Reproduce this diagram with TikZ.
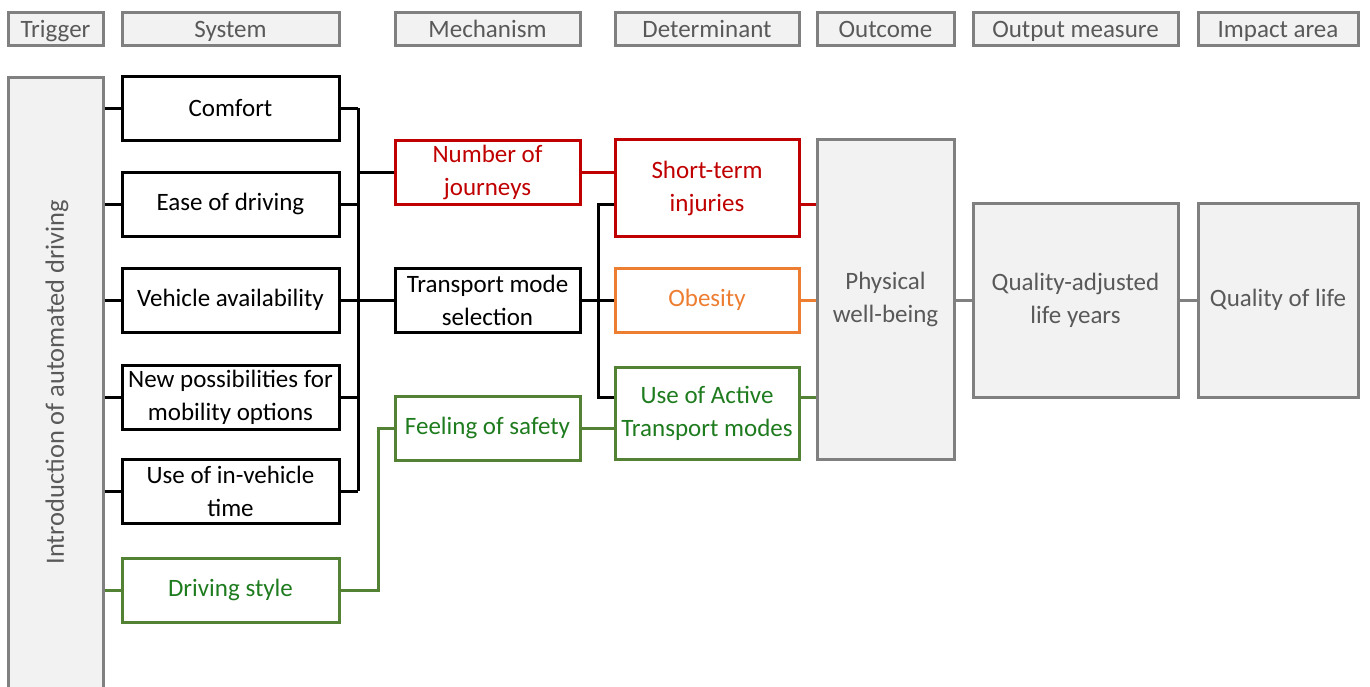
\documentclass[tikz,border=0pt]{standalone}
\usepackage{fontspec}
\setmainfont{Carlito}

\definecolor{boxgray}{HTML}{808080}
\definecolor{fillgray}{HTML}{F2F2F2}
\definecolor{txtgray}{HTML}{595959}
\definecolor{redline}{HTML}{C00000}
\definecolor{orangeline}{HTML}{ED7D31}
\definecolor{greenline}{HTML}{548235}
\definecolor{greentext}{HTML}{1E7B1E}

\begin{document}
\begin{tikzpicture}[x=0.5pt, y=-0.5pt,
    every node/.style={font=\fontsize{12.5}{16.5}\selectfont, inner sep=0pt, align=center},
    frame/.style={draw=black, line width=1.5pt, minimum height=32pt},
    sysbox/.style={frame, minimum width=108.5pt},
    mechbox/.style={frame, minimum width=92.5pt},
    detbox/.style={frame, minimum width=92pt},
    graybox/.style={draw=boxgray, fill=fillgray, text=txtgray, line width=1.5pt},
    headbox/.style={graybox, minimum height=16.5pt, text height=10pt, text depth=1.5pt},
    link/.style={line width=1.5pt}]
    \useasboundingbox (0,0) rectangle (1370,686);

    % column headers
    \foreach \n/\x/\w/\t in {Trig/55.5/47.5/Trigger, Sys/230.5/108.5/System,
        Mech/487.5/92.5/Mechanism, Det/707/92/Determinant, Out/885.5/68.5/Outcome,
        Meas/1075.5/102.5/Output measure, Imp/1278/80/Impact area}{%
        \node[headbox, minimum width=\w pt] (h\n) at (\x, 28.5) {\t};
    }

    % trigger
    \node[graybox, minimum width=47.5pt, minimum height=306.5pt] (trigger) at (55.5, 383.5) {};
    \node[rotate=90, text=txtgray, font=\fontsize{13.2}{16}\selectfont] (trigtext) at (57, 382) {Introduction of automated driving};

    % system
    \node[sysbox] (comfort) at (230.5, 108) {Comfort};
    \node[sysbox] (ease) at (230.5, 204) {Ease of driving};
    \node[sysbox] (avail) at (230.5, 300) {Vehicle availability};
    \node[sysbox] (newopt) at (230.5, 397) {New possibilities for\\mobility options};
    \node[sysbox] (invtime) at (230.5, 491) {Use of in-vehicle\\time};
    \node[sysbox, draw=greenline, text=greentext] (style) at (230.5, 590) {Driving style};

    % mechanism
    \node[mechbox, draw=redline, text=redline] (journeys) at (487.5, 172) {Number of\\journeys};
    \node[mechbox] (modesel) at (487.5, 300) {Transport mode\\selection};
    \node[mechbox, draw=greenline, text=greentext] (safety) at (487.5, 428) {Feeling of safety};

    % determinant
    \node[detbox, draw=redline, text=redline, minimum height=48.5pt] (injuries) at (707, 188) {Short-term\\injuries};
    \node[detbox, draw=orangeline, text=orangeline] (obesity) at (707, 300) {Obesity};
    \node[detbox, draw=greenline, text=greentext, minimum height=46pt] (active) at (707, 413) {Use of Active\\Transport modes};

    % outcome, output measure, impact area
    \node[graybox, minimum width=68.5pt, minimum height=160pt] (wellbeing) at (885.5, 299) {Physical\\well-being};
    \node[graybox, minimum width=102.5pt, minimum height=97pt] (qaly) at (1075.5, 300) {Quality-adjusted\\life years};
    \node[graybox, minimum width=80pt, minimum height=97pt] (qol) at (1278, 300) {Quality of life};

    % connectors
    \foreach \s in {comfort, ease, avail, newopt, invtime}{%
        \draw[link] (\s.west -| trigger.east) -- (\s.west);
    }
    \draw[link, greenline] (style.west -| trigger.east) -- (style.west);

    \coordinate (busA) at (358, 108);
    \coordinate (busB) at (358, 491);
    \draw[link] (busA) -- (busB);
    \foreach \s in {comfort, ease, avail, newopt, invtime}{%
        \draw[link] (\s.east) -- (\s.east -| busA);
    }
    \draw[link] (journeys.west -| busA) -- (journeys.west);
    \draw[link] (modesel.west -| busA) -- (modesel.west);
    \draw[link, greenline] (style.east) -- ++(38,0) |- (safety.west);

    \coordinate (jS) at (598, 204);
    \coordinate (jA) at (598, 397);
    \draw[link, redline] (journeys.east) -- (journeys.east -| injuries.west);
    \draw[link] (injuries.west |- jS) -- (jS) -- (jA) -- (active.west |- jA);
    \draw[link] (modesel.east) -- (obesity.west);
    \draw[link, greenline] (safety.east) -- (safety.east -| active.west);

    \draw[link, redline] (injuries.east |- jS) -- (wellbeing.west |- jS);
    \draw[link, orangeline] (obesity.east) -- (obesity.east -| wellbeing.west);
    \draw[link, greenline] (active.east |- jA) -- (wellbeing.west |- jA);

    \draw[link, boxgray] (qaly.west -| wellbeing.east) -- (qaly.west);
    \draw[link, boxgray] (qaly.east) -- (qol.west);
\end{tikzpicture}
\end{document}
